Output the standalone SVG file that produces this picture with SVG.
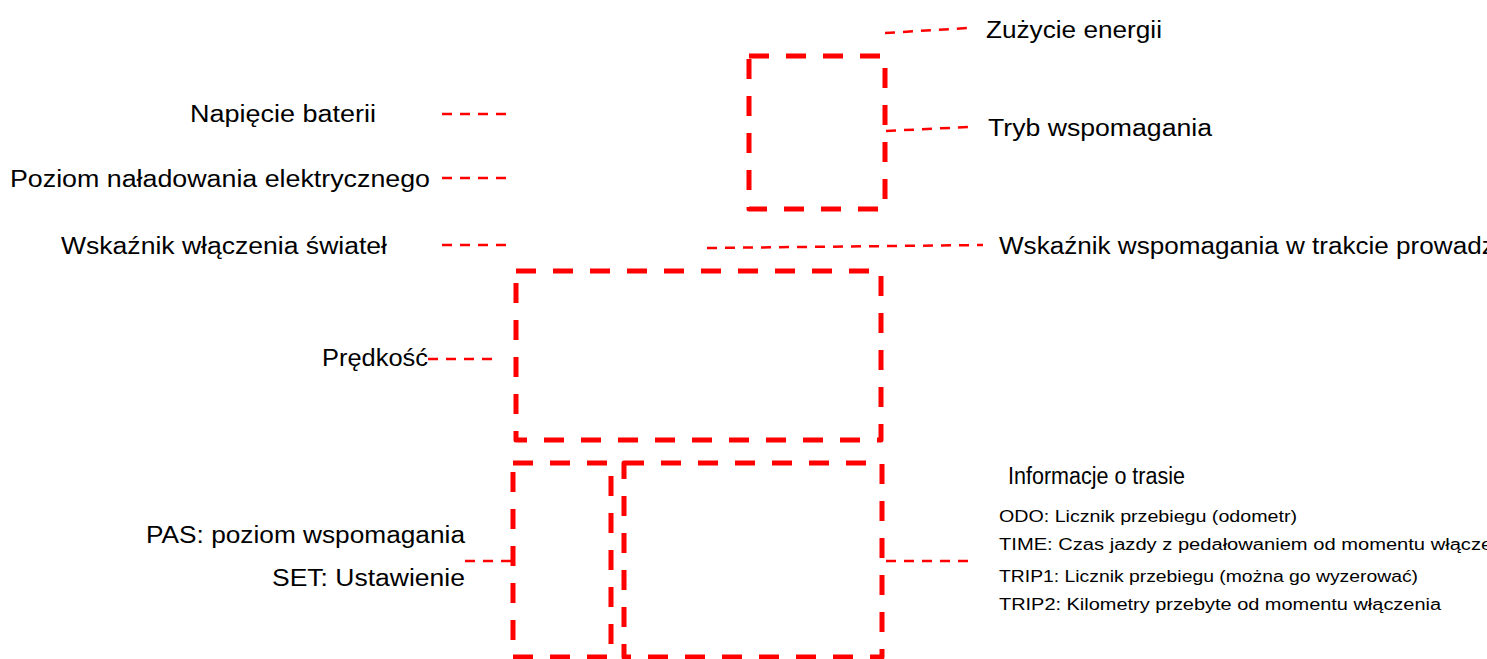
<svg xmlns="http://www.w3.org/2000/svg" width="1487" height="659" viewBox="0 0 1487 659">
<style>
.box{fill:none;stroke:#ff0000;stroke-width:5;stroke-dasharray:20 17;stroke-linejoin:round}
.con{fill:none;stroke:#ff0000;stroke-width:2.5;stroke-dasharray:10 8}
.t{font-family:"Liberation Sans",Arial,sans-serif;font-size:23px;fill:#000}
.s{font-family:"Liberation Sans",Arial,sans-serif;font-size:16px;fill:#000}
</style>
<rect width="1487" height="659" fill="#fff"/>
<g id="box-energy"><rect class="box" x="749" y="56" width="136" height="153"/></g>
<g id="box-speed"><rect class="box" x="516" y="271" width="365" height="169"/></g>
<g id="box-pas"><rect class="box" x="513" y="463" width="98" height="194"/></g>
<g id="box-trip"><rect class="box" x="624" y="463" width="258" height="194"/></g>
<g id="connectors">
<line class="con" x1="885" y1="33" x2="968" y2="28"/>
<line class="con" x1="886" y1="131" x2="968" y2="127"/>
<line class="con" x1="442" y1="114" x2="508" y2="114"/>
<line class="con" x1="442" y1="178" x2="508" y2="178"/>
<line class="con" x1="442" y1="245" x2="508" y2="245"/>
<line class="con" x1="707" y1="248" x2="983" y2="245"/>
<line class="con" x1="428" y1="359" x2="495" y2="359"/>
<line class="con" x1="465" y1="561" x2="512" y2="561"/>
<line class="con" x1="886" y1="561" x2="968" y2="561"/>
</g>
<g id="label-energy"><text class="t" x="986" y="38" textLength="176" lengthAdjust="spacingAndGlyphs">Zużycie energii</text></g>
<g id="label-mode"><text class="t" x="988" y="136" textLength="224" lengthAdjust="spacingAndGlyphs">Tryb wspomagania</text></g>
<g id="label-voltage"><text class="t" x="190" y="122" textLength="186" lengthAdjust="spacingAndGlyphs">Napięcie baterii</text></g>
<g id="label-charge"><text class="t" x="10" y="187" textLength="420" lengthAdjust="spacingAndGlyphs">Poziom naładowania elektrycznego</text></g>
<g id="label-lights"><text class="t" x="61" y="254" textLength="326" lengthAdjust="spacingAndGlyphs">Wskaźnik włączenia świateł</text></g>
<g id="label-walk"><text class="t" x="999" y="254" textLength="545" lengthAdjust="spacingAndGlyphs">Wskaźnik wspomagania w trakcie prowadzenia</text></g>
<g id="label-speed"><text class="t" x="322" y="366" textLength="106" lengthAdjust="spacingAndGlyphs">Prędkość</text></g>
<g id="label-pas">
<text class="t" x="146" y="543" textLength="319" lengthAdjust="spacingAndGlyphs">PAS: poziom wspomagania</text>
<text class="t" x="272" y="586" textLength="193" lengthAdjust="spacingAndGlyphs">SET: Ustawienie</text>
</g>
<g id="label-trip">
<text class="t" x="1008" y="484" textLength="177" lengthAdjust="spacingAndGlyphs">Informacje o trasie</text>
<text class="s" x="999" y="522" textLength="298" lengthAdjust="spacingAndGlyphs">ODO: Licznik przebiegu (odometr)</text>
<text class="s" x="999" y="550" textLength="520" lengthAdjust="spacingAndGlyphs">TIME: Czas jazdy z pedałowaniem od momentu włączenia</text>
<text class="s" x="999" y="582" textLength="419" lengthAdjust="spacingAndGlyphs">TRIP1: Licznik przebiegu (można go wyzerować)</text>
<text class="s" x="999" y="610" textLength="442" lengthAdjust="spacingAndGlyphs">TRIP2: Kilometry przebyte od momentu włączenia</text>
</g>
</svg>
